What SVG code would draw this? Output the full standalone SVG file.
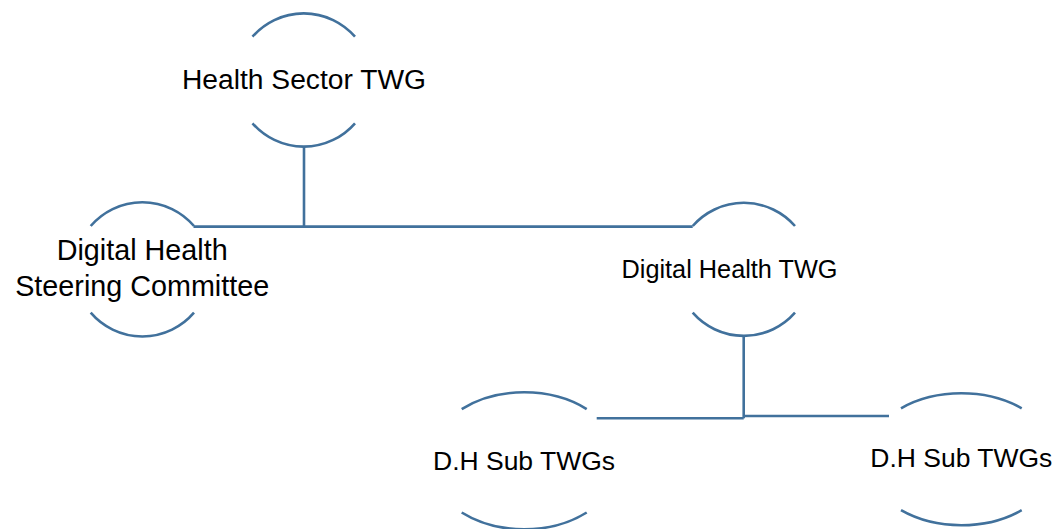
<svg xmlns="http://www.w3.org/2000/svg" width="1058" height="529" viewBox="0 0 1058 529">
  <style>
    .arc { fill: none; stroke: #41719C; stroke-width: 2.6; }
    .conn { fill: none; stroke: #41719C; stroke-width: 2.6; }
    .lbl { font-family: "Liberation Sans", Arial, sans-serif; fill: #000000; text-anchor: middle; }
  </style>
  <rect width="1058" height="529" fill="#ffffff"/>
  <g id="connectors">
    <path class="conn" d="M304 146.7 V226.6"/>
    <path class="conn" d="M193.5 226.6 H692.7"/>
    <path class="conn" d="M743.7 336.7 V418.3"/>
    <path class="conn" d="M596.7 418.3 H743.7"/>
    <path class="conn" d="M743.7 416 H889"/>
  </g>
  <g id="node-health-sector-twg">
    <path class="arc" d="M252.5 36.7 A68 68 0 0 1 355 36.7"/>
    <path class="arc" d="M252.5 123.3 A68 68 0 0 0 355 123.3"/>
    <text class="lbl" x="304" y="89" font-size="28.2" textLength="244" lengthAdjust="spacingAndGlyphs">Health Sector TWG</text>
  </g>
  <g id="node-dh-steering">
    <path class="arc" d="M90.7 226 A68 68 0 0 1 194 226"/>
    <path class="arc" d="M90.7 312.7 A68 68 0 0 0 194 312.7"/>
    <text class="lbl" x="142.2" y="259.5" font-size="28.8" textLength="171" lengthAdjust="spacingAndGlyphs">Digital Health</text>
    <text class="lbl" x="142.2" y="296" font-size="28.8" textLength="254" lengthAdjust="spacingAndGlyphs">Steering Committee</text>
  </g>
  <g id="node-dh-twg">
    <path class="arc" d="M692.7 226 A68 68 0 0 1 795 226"/>
    <path class="arc" d="M692.7 312.7 A68 68 0 0 0 795 312.7"/>
    <text class="lbl" x="729.5" y="278.3" font-size="25.3" textLength="216" lengthAdjust="spacingAndGlyphs">Digital Health TWG</text>
  </g>
  <g id="node-dh-sub-twgs-1">
    <path class="arc" d="M461.7 409.1 A95 68 0 0 1 586.7 409.1"/>
    <path class="arc" d="M461.7 512.5 A95 68 0 0 0 586.7 512.5"/>
    <text class="lbl" x="524" y="470" font-size="26.4" textLength="182" lengthAdjust="spacingAndGlyphs">D.H Sub TWGs</text>
  </g>
  <g id="node-dh-sub-twgs-2">
    <path class="arc" d="M901 408.3 A95 66 0 0 1 1021.7 408.3"/>
    <path class="arc" d="M901 510.2 A95 66 0 0 0 1021.7 510.2"/>
    <text class="lbl" x="961.3" y="467.3" font-size="26.4" textLength="182" lengthAdjust="spacingAndGlyphs">D.H Sub TWGs</text>
  </g>
</svg>
